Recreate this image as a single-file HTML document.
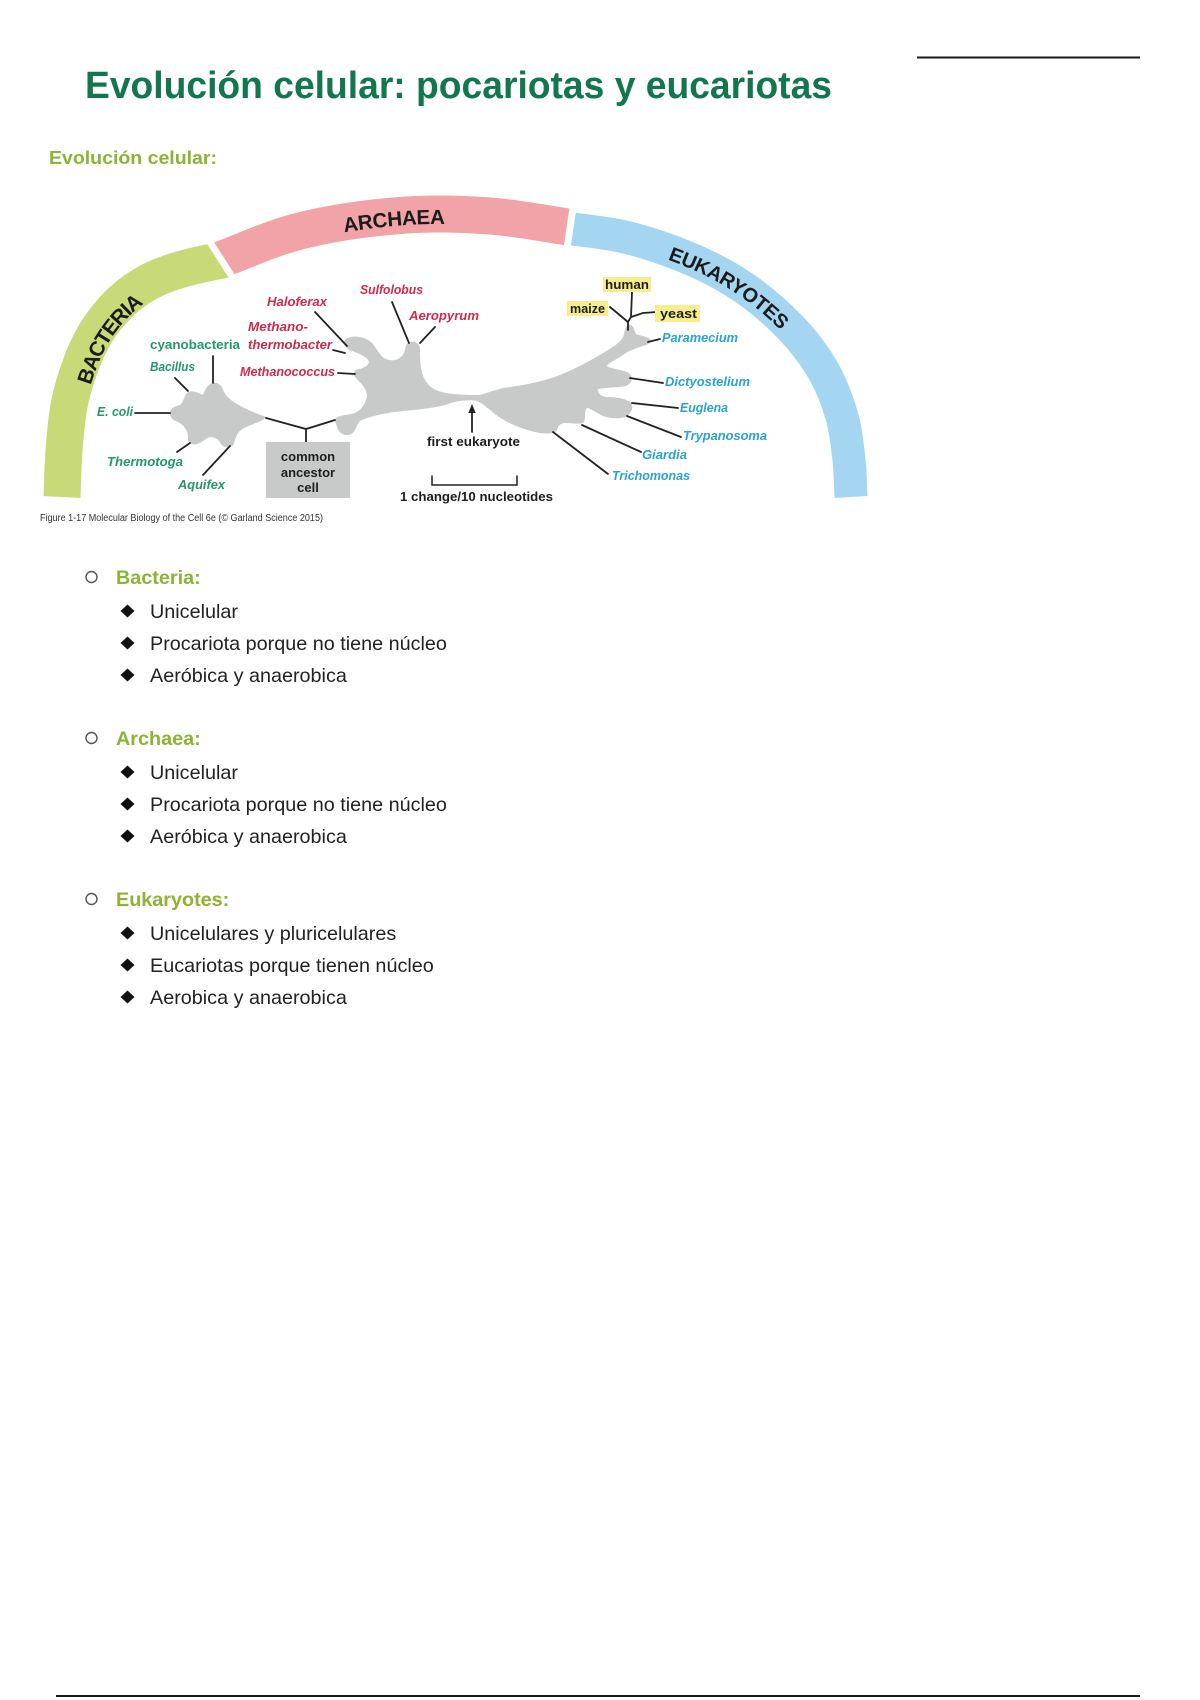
<!DOCTYPE html>
<html>
<head>
<meta charset="utf-8">
<style>
html,body{margin:0;padding:0;background:#fff;}
svg{display:block;}
text{font-family:"Liberation Sans",Arial,sans-serif;}
</style>
</head>
<body>
<svg width="1200" height="1700" viewBox="0 0 1200 1700" xmlns="http://www.w3.org/2000/svg">
<rect width="1200" height="1700" fill="#ffffff"/>

<!-- header -->
<line x1="917" y1="57.5" x2="1140" y2="57.5" stroke="#1a1a1a" stroke-width="2"/>
<text x="85" y="98" font-size="38" font-weight="bold" fill="#13774e" textLength="747" lengthAdjust="spacingAndGlyphs">Evolución celular: pocariotas y eucariotas</text>
<text x="49" y="164" font-size="18.5" font-weight="bold" fill="#8db334" textLength="168" lengthAdjust="spacingAndGlyphs">Evolución celular:</text>

<defs>
<path id="bp" d="M62,497 C62.7,481.7 62.8,466.2 64,451 C65.2,435.8 66.2,420.7 69,406 C71.8,391.3 76,377.2 81,364 C86,350.8 91,339.7 99,328 C107,316.3 117.5,304.2 129,295 C140.5,285.8 152,279.2 167,274 C182,268.3 200,264.5 222,260 L248,253"/>
<path id="ap" d="M195,270 L212,263 C243.3,251.7 269.2,238.75 300,231 C330.8,223.25 368.3,218 400,215.5 C431.7,213 460.8,213.9 490,216 C519.2,218.1 546.7,224 575,228 L592,231"/>
<path id="ep" d="M548,225 L566,228 C586.3,231.2 605.8,232.2 627,237.5 C648.2,242.8 673.3,251.5 693,260 C712.7,268.5 728.8,277.3 745,288.5 C761.2,299.7 777.2,313.7 790,327 C802.8,340.3 813.4,353.8 822,368.5 C830.6,383.2 837,399.75 841.5,415 C846,430.25 847.4,446.3 849,460 C850.6,473.7 850.3,484.7 851,497"/>
<clipPath id="cb"><polygon points="0,0 52,0 433.7,600 0,600"/></clipPath>
<clipPath id="ca"><polygon points="60,0 600.5,0 511,600 441.7,600"/></clipPath>
<clipPath id="ce"><polygon points="607.5,0 1200,0 1200,600 518,600"/></clipPath>
</defs>

<!-- bands -->
<use href="#bp" fill="none" stroke="#c8da78" stroke-width="37" clip-path="url(#cb)"/>
<use href="#ap" fill="none" stroke="#f2a3a7" stroke-width="37" clip-path="url(#ca)"/>
<use href="#ep" fill="none" stroke="#a4d6f2" stroke-width="33" clip-path="url(#ce)"/>

<text font-size="21" font-weight="bold" fill="#1b1b1b" dominant-baseline="central" dy="9"><textPath href="#bp" startOffset="172" text-anchor="middle">BACTERIA</textPath></text>
<text font-size="20.5" font-weight="bold" fill="#1b1b1b" dominant-baseline="central" dy="3"><textPath href="#ap" startOffset="207" text-anchor="middle">ARCHAEA</textPath></text>
<text font-size="20" font-weight="bold" fill="#1b1b1b" dominant-baseline="central" dy="3"><textPath href="#ep" startOffset="195" text-anchor="middle">EUKARYOTES</textPath></text>

<!-- blobs -->
<path fill="#c8c9c9" d="M170,413 C170,408 175,406 180,405 C184,402 184,394 189,392 C194,390 198,393 203,395 C205,391 206,385 213,383 C219,382 222,386 224,392 C229,402 247,410 266,417 C264,421 252,424 244,428 C238,431 236,436 234,443 C233,448 224,449 221,444 C219,440 215,437 210,437 C206,438 203,442 197,444 C191,446 187,442 188,437 C188,431 184,425 178,422 C175,421 170,419 170,413 Z"/>
<path fill="#c8c9c9" d="M335,420 C336,416 344,415 352,414 C360,412 366,404 367,396 C367,388 360,383 356,378 C352,374 354,370 359,369 C364,368 368,366 369,362 C368,357 360,354 352,351 C344,348 342,342 346,339 C352,335 365,336 372,343 C377,348 379,356 386,359 C393,362 400,360 404,353 C406,348 405,343 410,342 C416,341 420,344 420,350 C420,358 420,370 424,378 C429,388 436,391 446,393 C458,395 470,395 480,395 C490,392 500,388 510,387 C525,385 545,381 560,375 C575,369 590,361 603,353 C613,347 620,343 623,337 C625,333 624,328 628,325 C633,323 634,330 636,334 C640,336 646,336 650,339 C652,342 648,345 643,346 C636,348 628,351 620,357 C614,361 608,363 607,366 C610,369 620,369 627,372 C633,375 633,382 628,385 C622,388 607,387 598,389 C598,393 600,396 606,397 C614,397 626,398 631,403 C634,408 631,413 627,416 C622,419 612,419 603,416 C596,413 591,408 587,408 C584,410 586,418 584,422 C581,425 573,423 566,423 C560,423 558,426 557,430 C555,434 548,434 540,433 C528,431 514,426 502,419 C492,413 486,405 477,401 C468,399 455,401 445,405 C430,409 410,410 395,412 C380,414 368,417 360,421 C356,425 356,433 349,435 C342,436 338,431 337,427 C336,424 335,422 335,420 Z"/>

<!-- connector lines -->
<g stroke="#222" stroke-width="1.8" fill="none" stroke-linecap="round">
<line x1="135" y1="413" x2="170" y2="413"/>
<line x1="175" y1="378" x2="188" y2="391"/>
<line x1="213" y1="356" x2="213" y2="383"/>
<line x1="177" y1="452" x2="190" y2="443"/>
<line x1="203" y1="475" x2="230" y2="446"/>
<polyline points="266,418 306,429 335,420"/>
<line x1="306" y1="429" x2="306" y2="442"/>
<line x1="315" y1="312" x2="347" y2="346"/>
<line x1="333" y1="350" x2="345" y2="353"/>
<line x1="338" y1="373" x2="355" y2="374"/>
<line x1="392" y1="302" x2="409" y2="343"/>
<line x1="435" y1="327" x2="420" y2="343"/>
<line x1="648" y1="342" x2="660" y2="339"/>
<line x1="630" y1="378" x2="663" y2="383"/>
<line x1="632" y1="403" x2="678" y2="408"/>
<line x1="627" y1="416" x2="681" y2="437"/>
<line x1="582" y1="425" x2="641" y2="452"/>
<line x1="553" y1="432" x2="608" y2="474"/>
<polyline points="632,292 631,317 628,322"/>
<line x1="610" y1="307" x2="628" y2="322"/>
<polyline points="657,312 643,313 631,317"/>
<line x1="628" y1="322" x2="628" y2="330"/>
<line x1="472" y1="432" x2="472" y2="411"/>
<polyline points="432,476 432,485 517,485 517,476" stroke-width="1.5"/>
</g>
<polygon points="472,404 468.3,413 475.7,413" fill="#222"/>

<!-- common ancestor box -->
<rect x="266" y="442" width="84" height="56" fill="#c8c9c9"/>
<g font-size="13" font-weight="bold" fill="#1e1e1e" text-anchor="middle">
<text x="308" y="461">common</text>
<text x="308" y="477">ancestor</text>
<text x="308" y="492">cell</text>
<text x="473.5" y="446" textLength="93" lengthAdjust="spacingAndGlyphs">first eukaryote</text>
<text x="476.5" y="501" textLength="153" lengthAdjust="spacingAndGlyphs">1 change/10 nucleotides</text>
</g>

<!-- yellow boxes -->
<rect x="603" y="277" width="48" height="15" fill="#f6ee8e"/>
<rect x="567" y="301" width="41" height="15" fill="#f6ee8e"/>
<rect x="655" y="305" width="45" height="17" fill="#f6ee8e"/>
<g font-size="13" font-weight="bold" fill="#1e1e1e">
<text x="605" y="289" textLength="44" lengthAdjust="spacingAndGlyphs">human</text>
<text x="570" y="313" textLength="35" lengthAdjust="spacingAndGlyphs">maize</text>
<text x="660" y="318" textLength="37" lengthAdjust="spacingAndGlyphs">yeast</text>
</g>

<!-- bacteria labels -->
<g font-size="13" font-weight="bold" fill="#22996b">
<text x="150" y="349" textLength="90" lengthAdjust="spacingAndGlyphs">cyanobacteria</text>
<g font-style="italic">
<text x="150" y="371" textLength="45" lengthAdjust="spacingAndGlyphs">Bacillus</text>
<text x="97" y="416" textLength="36" lengthAdjust="spacingAndGlyphs">E. coli</text>
<text x="107" y="466" textLength="76" lengthAdjust="spacingAndGlyphs">Thermotoga</text>
<text x="178" y="489" textLength="47" lengthAdjust="spacingAndGlyphs">Aquifex</text>
</g>
</g>

<!-- archaea labels -->
<g font-size="13" font-weight="bold" font-style="italic" fill="#d22a4a">
<text x="267" y="306" textLength="60" lengthAdjust="spacingAndGlyphs">Haloferax</text>
<text x="248" y="331" textLength="60" lengthAdjust="spacingAndGlyphs">Methano-</text>
<text x="248" y="349" textLength="84" lengthAdjust="spacingAndGlyphs">thermobacter</text>
<text x="240" y="376" textLength="95" lengthAdjust="spacingAndGlyphs">Methanococcus</text>
<text x="360" y="294" textLength="63" lengthAdjust="spacingAndGlyphs">Sulfolobus</text>
<text x="409" y="320" textLength="70" lengthAdjust="spacingAndGlyphs">Aeropyrum</text>
</g>

<!-- eukaryote labels -->
<g font-size="13" font-weight="bold" font-style="italic" fill="#29a3d3">
<text x="662" y="342" textLength="76" lengthAdjust="spacingAndGlyphs">Paramecium</text>
<text x="665" y="386" textLength="85" lengthAdjust="spacingAndGlyphs">Dictyostelium</text>
<text x="680" y="412" textLength="48" lengthAdjust="spacingAndGlyphs">Euglena</text>
<text x="683" y="440" textLength="84" lengthAdjust="spacingAndGlyphs">Trypanosoma</text>
<text x="642" y="459" textLength="45" lengthAdjust="spacingAndGlyphs">Giardia</text>
<text x="612" y="480" textLength="78" lengthAdjust="spacingAndGlyphs">Trichomonas</text>
</g>

<text x="40" y="521" font-size="10" fill="#333" textLength="283" lengthAdjust="spacingAndGlyphs">Figure 1-17 Molecular Biology of the Cell 6e (© Garland Science 2015)</text>

<!-- list -->
<g font-size="19.8">
<circle cx="91.5" cy="577" r="5.5" fill="#fff" stroke="#555" stroke-width="1.4"/>
<text x="116" y="584" font-weight="bold" fill="#8db334">Bacteria:</text>
<polygon points="127.5,604.5 134.5,611 127.5,617.5 120.5,611" fill="#111"/>
<text x="150" y="618" fill="#222">Unicelular</text>
<polygon points="127.5,636.5 134.5,643 127.5,649.5 120.5,643" fill="#111"/>
<text x="150" y="650" fill="#222">Procariota porque no tiene núcleo</text>
<polygon points="127.5,668.5 134.5,675 127.5,681.5 120.5,675" fill="#111"/>
<text x="150" y="682" fill="#222">Aeróbica y anaerobica</text>

<circle cx="91.5" cy="738" r="5.5" fill="#fff" stroke="#555" stroke-width="1.4"/>
<text x="116" y="745" font-weight="bold" fill="#8db334">Archaea:</text>
<polygon points="127.5,765.5 134.5,772 127.5,778.5 120.5,772" fill="#111"/>
<text x="150" y="779" fill="#222">Unicelular</text>
<polygon points="127.5,797.5 134.5,804 127.5,810.5 120.5,804" fill="#111"/>
<text x="150" y="811" fill="#222">Procariota porque no tiene núcleo</text>
<polygon points="127.5,829.5 134.5,836 127.5,842.5 120.5,836" fill="#111"/>
<text x="150" y="843" fill="#222">Aeróbica y anaerobica</text>

<circle cx="91.5" cy="899" r="5.5" fill="#fff" stroke="#555" stroke-width="1.4"/>
<text x="116" y="906" font-weight="bold" fill="#8db334">Eukaryotes:</text>
<polygon points="127.5,926.5 134.5,933 127.5,939.5 120.5,933" fill="#111"/>
<text x="150" y="940" fill="#222">Unicelulares y pluricelulares</text>
<polygon points="127.5,958.5 134.5,965 127.5,971.5 120.5,965" fill="#111"/>
<text x="150" y="972" fill="#222">Eucariotas porque tienen núcleo</text>
<polygon points="127.5,990.5 134.5,997 127.5,1003.5 120.5,997" fill="#111"/>
<text x="150" y="1004" fill="#222">Aerobica y anaerobica</text>
</g>

<!-- bottom rule -->
<line x1="56" y1="1696" x2="1140" y2="1696" stroke="#1a1a1a" stroke-width="2"/>
</svg>
</body>
</html>
